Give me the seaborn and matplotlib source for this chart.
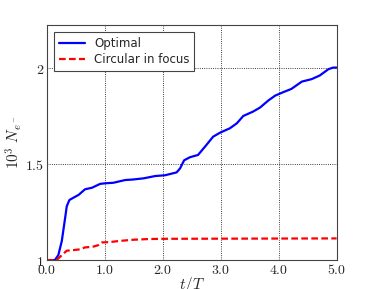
import numpy as np
import pandas as pd
import matplotlib
matplotlib.use("Agg")
import matplotlib.pyplot as plt
from matplotlib.ticker import FuncFormatter
import seaborn as sns

sns.set_style("white")
plt.rcParams["font.family"] = ["DejaVu Sans"]
plt.rcParams["mathtext.fontset"] = "cm"

t_opt = [0.0, 0.14, 0.20, 0.26, 0.32, 0.345, 0.39, 0.46, 0.55, 0.66, 0.78, 0.92, 1.0,
         1.15, 1.35, 1.49, 1.67, 1.87, 2.04, 2.24, 2.30, 2.37, 2.47, 2.61, 2.73, 2.87,
         2.99, 3.16, 3.28, 3.39, 3.56, 3.68, 3.82, 3.94, 4.08, 4.22, 4.40, 4.57, 4.71,
         4.86, 4.94, 5.0]
n_opt = [1.0, 1.0, 1.026, 1.10, 1.226, 1.28, 1.313, 1.325, 1.34, 1.369, 1.377, 1.397, 1.40,
         1.403, 1.417, 1.42, 1.426, 1.438, 1.442, 1.457, 1.478, 1.52, 1.536, 1.548, 1.591, 1.643,
         1.664, 1.687, 1.713, 1.751, 1.774, 1.795, 1.831, 1.857, 1.875, 1.892, 1.930, 1.943, 1.962,
         1.995, 2.003, 2.003]

t_circ = [0.0, 0.17, 0.26, 0.345, 0.46, 0.57, 0.66, 0.80, 0.89, 0.95, 1.09, 1.26, 1.49,
          1.78, 2.07, 5.0]
n_circ = [1.0, 1.0, 1.026, 1.049, 1.052, 1.056, 1.066, 1.07, 1.078, 1.092, 1.094, 1.10, 1.106,
          1.11, 1.111, 1.113]

df = pd.concat([
    pd.DataFrame({"t": t_opt, "N": n_opt, "series": "Optimal"}),
    pd.DataFrame({"t": t_circ, "N": n_circ, "series": "Circular in focus"}),
])

fig = plt.figure(figsize=(3.74, 2.89), dpi=100)
ax = fig.add_axes([0.125, 0.10, 0.775, 0.8135])

sns.lineplot(data=df, x="t", y="N", hue="series", style="series",
             palette={"Optimal": "blue", "Circular in focus": "red"},
             dashes={"Optimal": "", "Circular in focus": (3, 1.5)},
             lw=1.6, ax=ax, sort=False)

ax.set_xlim(0, 5)
ax.set_ylim(1, 2.225)
ax.set_xticks([0, 1, 2, 3, 4, 5])
ax.set_yticks([1, 1.5, 2])
ax.xaxis.set_major_formatter(FuncFormatter(lambda v, p: "$%.1f$" % v))
ax.yaxis.set_major_formatter(FuncFormatter(lambda v, p: "$%g$" % v))
ax.tick_params(labelsize=10, length=0, pad=2)
ax.grid(True, color="black", linestyle=":", linewidth=0.6)
for s in ax.spines.values():
    s.set_color("#444444")
    s.set_linewidth(0.8)

ax.set_xlabel("$t/T$", fontsize=11, labelpad=-1)
ax.set_ylabel("$10^3\\ N_{e^-}$", fontsize=11, labelpad=1)

leg = ax.legend(loc="upper left", fontsize=8.5, fancybox=False, framealpha=1,
                edgecolor="#444444", handlelength=2.2, borderpad=0.4,
                labelspacing=0.3, bbox_to_anchor=(0.005, 0.995))
leg.get_frame().set_linewidth(0.8)

fig.savefig("out.png", dpi=100)
